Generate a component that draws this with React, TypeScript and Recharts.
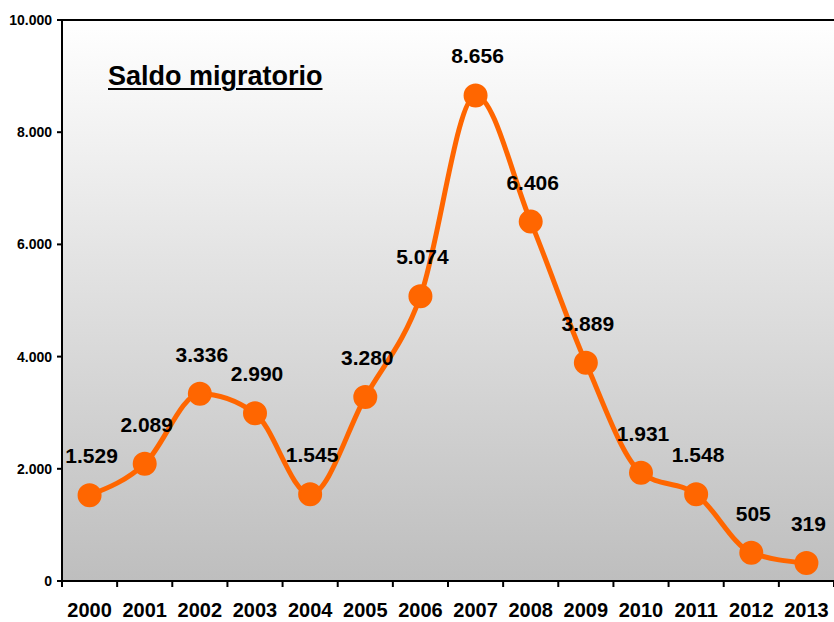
import React from 'react';
import { LineChart, Line, XAxis, YAxis, CartesianGrid, ReferenceLine, LabelList } from 'recharts';

const years = ['2000', '2001', '2002', '2003', '2004', '2005', '2006', '2007', '2008', '2009', '2010', '2011', '2012', '2013'];
const saldo = [1529, 2089, 3336, 2990, 1545, 3280, 5074, 8656, 6406, 3889, 1931, 1548, 505, 319];
const yTicks = [0, 2000, 4000, 6000, 8000, 10000];

const data = years.map((year, i) => ({ year, saldo: saldo[i] }));

const FONT = "Arial, 'Liberation Sans', sans-serif";
const ORANGE = '#FF6600';
const WIDTH = 834;
const HEIGHT = 622;
const PLOT_LEFT = 62;
const PLOT_BOTTOM = 581;
const HALF_STEP = (WIDTH - PLOT_LEFT) / years.length / 2;

// dot as thousands separator, like 1.529
const fmt = (v: number) => String(v).replace(/\B(?=(\d{3})+(?!\d))/g, '.');

const YearTick = (props: any) => {
  const { x, payload, index } = props;
  const last = index === years.length - 1;
  return (
    <g>
      <line x1={x - HALF_STEP} x2={x - HALF_STEP} y1={PLOT_BOTTOM} y2={PLOT_BOTTOM + 6} stroke="#000" strokeWidth={2} />
      {last && (
        <line x1={x + HALF_STEP} x2={x + HALF_STEP} y1={PLOT_BOTTOM} y2={PLOT_BOTTOM + 6} stroke="#000" strokeWidth={2} />
      )}
      <text x={x} y={617} textAnchor="middle" fontFamily={FONT} fontWeight="bold" fontSize={20} fill="#000">
        {payload.value}
      </text>
    </g>
  );
};

const ValueLabel = (props: any) => {
  const { x, y, value } = props;
  return (
    <text x={x + 2} y={y - 32} textAnchor="middle" fontFamily={FONT} fontWeight="bold" fontSize={21} fill="#000">
      {fmt(value)}
    </text>
  );
};

const App: React.FC = () => {
  return (
    <div style={{ position: 'absolute', left: 0, top: 0, width: WIDTH, height: HEIGHT, background: '#fff' }}>
      <LineChart width={WIDTH} height={HEIGHT} data={data} margin={{ top: 20, right: 0, left: 0, bottom: 0 }}>
        <defs>
          <linearGradient id="bg" x1="0" y1="0" x2="0" y2="1">
            <stop offset="0%" stopColor="#FFFFFF" />
            <stop offset="100%" stopColor="#BEBEBE" />
          </linearGradient>
        </defs>
        <CartesianGrid horizontal={false} vertical={false} fill="url(#bg)" />
        <XAxis
          dataKey="year"
          height={41}
          padding={{ left: HALF_STEP, right: HALF_STEP }}
          axisLine={{ stroke: '#000', strokeWidth: 2 }}
          tickLine={false}
          tick={<YearTick />}
          interval={0}
        />
        <YAxis
          width={PLOT_LEFT}
          domain={[0, 10000]}
          ticks={yTicks}
          tickFormatter={fmt}
          axisLine={{ stroke: '#000', strokeWidth: 2 }}
          tickLine={{ stroke: '#000', strokeWidth: 2 }}
          tickSize={5}
          tickMargin={5}
          tick={{ fill: '#000', fontFamily: FONT, fontWeight: 'bold', fontSize: 14 }}
        />
        <ReferenceLine y={10000} stroke="#000" strokeWidth={2} />
        <Line
          type="monotone"
          dataKey="saldo"
          stroke={ORANGE}
          strokeWidth={5}
          dot={{ r: 11, fill: ORANGE, stroke: ORANGE, strokeWidth: 2 }}
          activeDot={false}
          isAnimationActive={false}
        >
          <LabelList dataKey="saldo" content={<ValueLabel />} />
        </Line>
      </LineChart>
      <div
        style={{
          position: 'absolute',
          left: 108,
          top: 63,
          fontFamily: FONT,
          fontWeight: 'bold',
          fontSize: 27,
          lineHeight: '27px',
          textDecoration: 'underline',
          textDecorationThickness: 2,
          textUnderlineOffset: 3,
          color: '#000',
          whiteSpace: 'nowrap',
        }}
      >
        Saldo migratorio
      </div>
    </div>
  );
};

export default App;
